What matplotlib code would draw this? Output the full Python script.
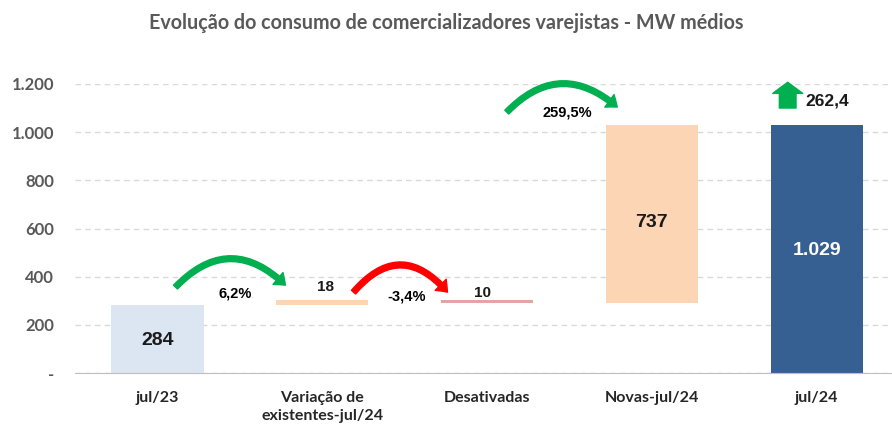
import matplotlib.pyplot as plt
from matplotlib.ticker import FixedLocator

categories = ['jul/23', 'Variação de\nexistentes-jul/24', 'Desativadas', 'Novas-jul/24', 'jul/24']
bottoms = [0, 284, 292, 292, 0]
heights = [284, 18, 10, 737, 1029]
bar_labels = ['284', '18', '10', '737', '1.029']
colors = ['#DCE6F2', '#FCD5B5', '#E6A3A3', '#FCD5B5', '#376092']
pct_labels = ['6,2%', '-3,4%', '259,5%']
growth_label = '262,4'
yticks = [0, 200, 400, 600, 800, 1000, 1200]
ytick_labels = ['-', '200', '400', '600', '800', '1.000', '1.200']

GREEN = '#00B050'
RED = '#FF0000'

fig = plt.figure(figsize=(8.92, 4.24), dpi=100)
ax = fig.add_axes([0.084, 0.120, 0.924, 0.682])

x = range(len(categories))
ax.bar(x, heights, bottom=bottoms, width=0.56, color=colors, zorder=2)

ax.set_xlim(-0.5, 4.5)
ax.set_ylim(0, 1200)
ax.yaxis.set_major_locator(FixedLocator(yticks))
ax.set_yticklabels(ytick_labels, fontsize=12, fontweight='bold', color='#595959', family='Lato')
ax.set_xticks(list(x))
ax.set_xticklabels(categories, fontsize=11.5, fontweight='bold', color='#262626', family='Lato',
                   linespacing=1.35)
ax.tick_params(axis='y', length=0, pad=15)
ax.tick_params(axis='x', length=0, pad=13)
ax.grid(axis='y', linestyle=(0, (4, 3)), color='#D9D9D9', lw=1, zorder=0)
for s in ['top', 'right', 'left']:
    ax.spines[s].set_visible(False)
ax.spines['bottom'].set_color('#BFBFBF')
ax.spines['bottom'].set_zorder(3)

# value labels
lab_kw = dict(ha='center', va='center', fontweight='bold', family='Liberation Sans')
ax.text(0, 137, bar_labels[0], fontsize=14, color='#1a1a1a', **lab_kw)
ax.text(1.02, 357, bar_labels[1], fontsize=11, color='#1a1a1a', **lab_kw)
ax.text(1.97, 332, bar_labels[2], fontsize=11, color='#1a1a1a', **lab_kw)
ax.text(3, 627, bar_labels[3], fontsize=14, color='#1a1a1a', **lab_kw)
ax.text(4, 510, bar_labels[4], fontsize=14, color='white', **lab_kw)

# curved arrows (mutation_scale is in points: 8pt ~ 11px)
def curved(start, end, color, rad):
    ax.annotate('', xy=end, xytext=start, annotation_clip=False,
                arrowprops=dict(arrowstyle='simple,head_width=1.4,head_length=0.9,tail_width=0.5',
                                connectionstyle=f'arc3,rad=-{rad}', color=color,
                                mutation_scale=8, shrinkA=0, shrinkB=0), zorder=4)

curved((0.11, 357), (0.777, 365), GREEN, 0.5)
curved((1.19, 336), (1.76, 336), RED, 0.58)
curved((2.12, 1083), (2.79, 1104), GREEN, 0.47)

ax.text(0.47, 332, pct_labels[0], fontsize=10.5, **lab_kw)
ax.text(1.51, 320, pct_labels[1], fontsize=10.5, **lab_kw)
ax.text(2.49, 1083, pct_labels[2], fontsize=10.5, **lab_kw)

# up arrow for total growth
ax.annotate('', xy=(3.824, 1207), xytext=(3.824, 1100), annotation_clip=False,
            arrowprops=dict(arrowstyle='simple,head_width=2.7,head_length=1.0,tail_width=1.5',
                            color=GREEN, mutation_scale=8, shrinkA=0, shrinkB=0))
ax.text(3.93, 1128, growth_label, fontsize=12.5, ha='left', va='center',
        fontweight='bold', family='Liberation Sans', color='#1a1a1a')

fig.suptitle('Evolução do consumo de comercializadores varejistas - MW médios',
             x=0.5, y=0.97, fontsize=14.2, fontweight='bold', color='#595959', family='Lato')

fig.savefig('out.png', dpi=100)
